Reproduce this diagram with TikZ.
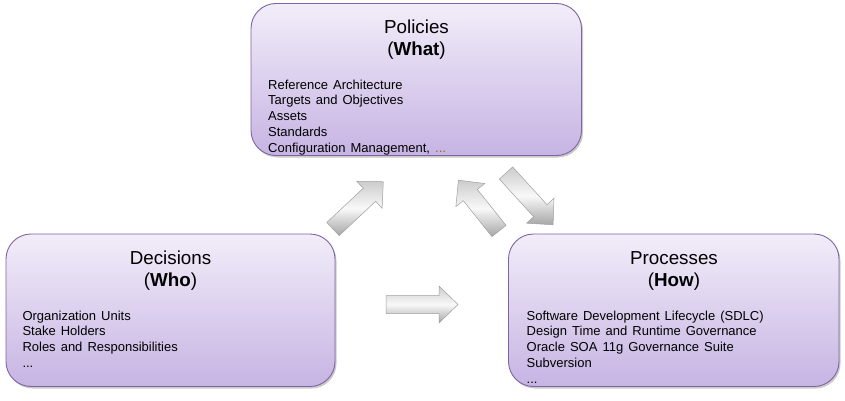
\documentclass[tikz,border=0pt]{standalone}
\usepackage{fontspec}
\setmainfont{Liberation Sans}
\newfontfamily\itemfont[WordSpace=1.4]{Liberation Sans}
\usetikzlibrary{shadows}
\definecolor{boxtop}{RGB}{242,237,249}
\definecolor{boxbot}{RGB}{198,180,227}
\definecolor{boxline}{RGB}{128,100,162}
\definecolor{dotcol}{RGB}{150,105,20}
\tikzset{
  panel/.style={draw=boxline, line width=0.9pt, rounded corners=25pt,
    top color=boxtop, bottom color=boxbot,
    drop shadow={shadow xshift=1.5pt, shadow yshift=-2pt, opacity=0.35, fill=black!60}},
  ttl/.style={font=\fontsize{18.8}{20}\selectfont, anchor=base, inner sep=0pt},
  itm/.style={font=\itemfont\fontsize{13}{14}\selectfont, anchor=base west, inner sep=0pt},
  blk/.style={draw=gray!75, line width=0.5pt, top color=gray!40, bottom color=gray!70, middle color=gray!5}
}
\newcommand\blockarrow[4]{%
  \begin{scope}[shift={(#1,#2)}, rotate=#3]
    \path[blk] (0,-9) -- (#4-19,-9) -- (#4-19,-18.5) -- (#4,0) -- (#4-19,18.5) -- (#4-19,9) -- (0,9) -- cycle;
  \end{scope}}
\begin{document}
\begin{tikzpicture}[x=1pt, y=-1pt]
\useasboundingbox (0,0) rectangle (845,401);

% panels
\path[panel] (251,3.5) rectangle (581.5,155.5);
\path[panel] (6,234) rectangle (335,386.5);
\path[panel] (508.5,234) rectangle (839,386.5);

% Policies
\node[ttl] (pt1) at (416.5,33.3) {Policies};
\node[ttl] (pt2) at (416.5,55.5) {(\textbf{What})};
\node[itm] (p1) at (268,89.3) {Reference Architecture};
\node[itm] (p2) at (268,105) {Targets and Objectives};
\node[itm] (p3) at (268,120.7) {Assets};
\node[itm] (p4) at (268,136.5) {Standards};
\node[itm] (p5) at (268,152.3) {Configuration Management, \textcolor{dotcol}{...}};

% Decisions
\node[ttl] (dt1) at (170.5,264.3) {Decisions};
\node[ttl] (dt2) at (170.5,286.5) {(\textbf{Who})};
\node[itm] (d1) at (22.3,320) {Organization Units};
\node[itm] (d2) at (22.3,335.7) {Stake Holders};
\node[itm] (d3) at (22.3,351.4) {Roles and Responsibilities};
\node[itm] (d4) at (22.3,367.2) {...};

% Processes
\node[ttl] (rt1) at (674,264.3) {Processes};
\node[ttl] (rt2) at (674,286.5) {(\textbf{How})};
\node[itm] (r1) at (526.5,320) {Software Development Lifecycle (SDLC)};
\node[itm] (r2) at (526.5,335.7) {Design Time and Runtime Governance};
\node[itm] (r3) at (526.5,351.4) {Oracle SOA 11g Governance Suite};
\node[itm] (r4) at (526.5,367.2) {Subversion};
\node[itm] (r5) at (526.5,383) {...};

% block arrows
\blockarrow{333}{229}{43.2}{69}
\blockarrow{499}{231}{128.6}{65}
\blockarrow{506}{173}{-47.7}{70}
\blockarrow{386}{304.5}{0}{72}
\end{tikzpicture}
\end{document}
